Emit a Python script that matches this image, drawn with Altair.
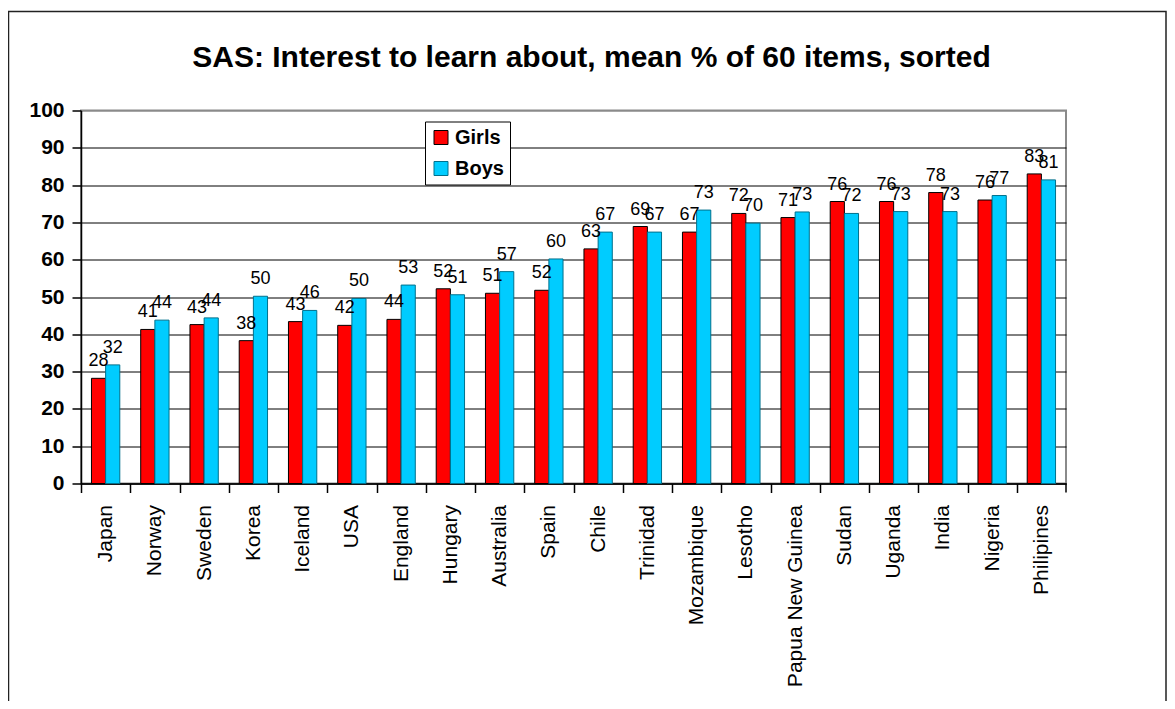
import altair as alt
import pandas as pd

countries = ["Japan", "Norway", "Sweden", "Korea", "Iceland", "USA", "England",
             "Hungary", "Australia", "Spain", "Chile", "Trinidad", "Mozambique",
             "Lesotho", "Papua New Guinea", "Sudan", "Uganda", "India", "Nigeria",
             "Philipines"]
girls = [28.2, 41.3, 42.6, 38.3, 43.4, 42.4, 44.0, 52.2, 51.0, 51.8,
         62.9, 68.9, 67.4, 72.4, 71.3, 75.6, 75.6, 78.0, 76.0, 83.0]
boys = [31.8, 43.8, 44.4, 50.2, 46.4, 49.6, 53.2, 50.6, 56.8, 60.2,
        67.4, 67.4, 73.3, 69.8, 72.8, 72.4, 72.9, 72.9, 77.2, 81.4]
series = ["Girls", "Boys"]
fill_colors = ["#ff0000", "#00ccff"]
edge_colors = ["#000000", "#00708c"]
y_ticks = [0, 10, 20, 30, 40, 50, 60, 70, 80, 90, 100]
title_text = "SAS: Interest to learn about, mean % of 60 items, sorted"

rows = []
for c, g, b in zip(countries, girls, boys):
    rows.append({"country": c, "group": "Girls", "value": g})
    rows.append({"country": c, "group": "Boys", "value": b})
df = pd.DataFrame(rows)
dummy = pd.DataFrame({"k": [0]})

FONT = "Liberation Sans"
W, H = 985, 373
PAD_IN = 0.425
STEP = W / len(countries)
GAP_HALF = STEP * PAD_IN / 2
TOTAL_W, TOTAL_H = 1159, 693
PAD_L, PAD_T = 73, 102.5

x_enc = alt.X(
    "country:N", sort=countries, title=None,
    scale=alt.Scale(paddingInner=PAD_IN, paddingOuter=PAD_IN / 2),
    axis=alt.Axis(labelAngle=270, labelAlign="right", labelBaseline="middle",
                  labelFont=FONT, labelFontSize=21, labelColor="black",
                  labelPadding=12, bandPosition=0, tickOffset=-GAP_HALF,
                  labelOffset=GAP_HALF,
                  labelLimit=0, ticks=True, tickSize=9, tickColor="black",
                  tickWidth=1.5, domainColor="black", domainWidth=1.5,
                  grid=False, labelOverlap=False),
)
xo_enc = alt.XOffset("group:N", sort=series,
                     scale=alt.Scale(domain=series, paddingInner=0, paddingOuter=0))
y_enc = alt.Y(
    "value:Q", title=None, scale=alt.Scale(domain=[0, 100], nice=False),
    axis=alt.Axis(values=y_ticks, labelFont=FONT, labelFontSize=21,
                  labelFontWeight="bold", labelColor="black", labelPadding=8,
                  tickSize=9, tickColor="black", tickWidth=1.5,
                  domainColor="black", domainWidth=1.5, grid=True,
                  gridColor={"condition": {"test": "datum.value === 100", "value": "#8a8a8a"},
                             "value": "black"},
                  gridWidth=1, gridOpacity=1, labelOverlap=False),
)

bars = alt.Chart(df).mark_bar(strokeWidth=1, opacity=1).encode(
    x=x_enc, xOffset=xo_enc, y=y_enc,
    color=alt.Color("group:N", sort=series,
                    scale=alt.Scale(domain=series, range=fill_colors),
                    legend=alt.Legend(title=None, orient="none", legendX=344, legendY=11,
                                      direction="vertical", labelFont=FONT,
                                      labelFontSize=20, labelFontWeight="bold",
                                      labelColor="black", symbolType="square",
                                      symbolSize=196, symbolStrokeColor="black",
                                      symbolStrokeWidth=1, symbolOpacity=1,
                                      strokeColor="black", fillColor="white",
                                      padding=6, rowPadding=11, labelOffset=4)),
    stroke=alt.Stroke("group:N", sort=series,
                      scale=alt.Scale(domain=series, range=edge_colors), legend=None),
)

labels = alt.Chart(df).mark_text(font=FONT, fontSize=18, color="black",
                                 baseline="alphabetic", dy=-12).encode(
    x=x_enc, xOffset=xo_enc, y=y_enc,
    text=alt.Text("value:Q", format=".0f"),
)

end_tick = alt.Chart(dummy).mark_rule(color="black", strokeWidth=1.5).encode(
    x=alt.value(W), y=alt.value(H), y2=alt.value(H + 9))

frame = alt.Chart(dummy).mark_rect(fillOpacity=0, stroke="#222222", strokeWidth=1.5).encode(
    x=alt.value(-PAD_L + 0.5), x2=alt.value(TOTAL_W - PAD_L - 1),
    y=alt.value(-PAD_T + 3.5), y2=alt.value(H + 400))

chart = alt.layer(frame, bars, labels, end_tick).properties(
    width=W, height=H,
    title=alt.TitleParams(title_text, font=FONT, fontSize=30, fontWeight="bold",
                          color="black", anchor="middle", frame="group",
                          baseline="alphabetic", offset=0, dx=18, dy=86),
    autosize=alt.AutoSizeParams(type="none"),
    padding={"left": PAD_L, "top": PAD_T, "right": TOTAL_W - PAD_L - W,
             "bottom": TOTAL_H - PAD_T - H},
    background="white",
).configure_view(stroke="#8a8a8a", strokeWidth=2)

chart.save("out.html", embed_options={"renderer": "svg", "actions": False})
